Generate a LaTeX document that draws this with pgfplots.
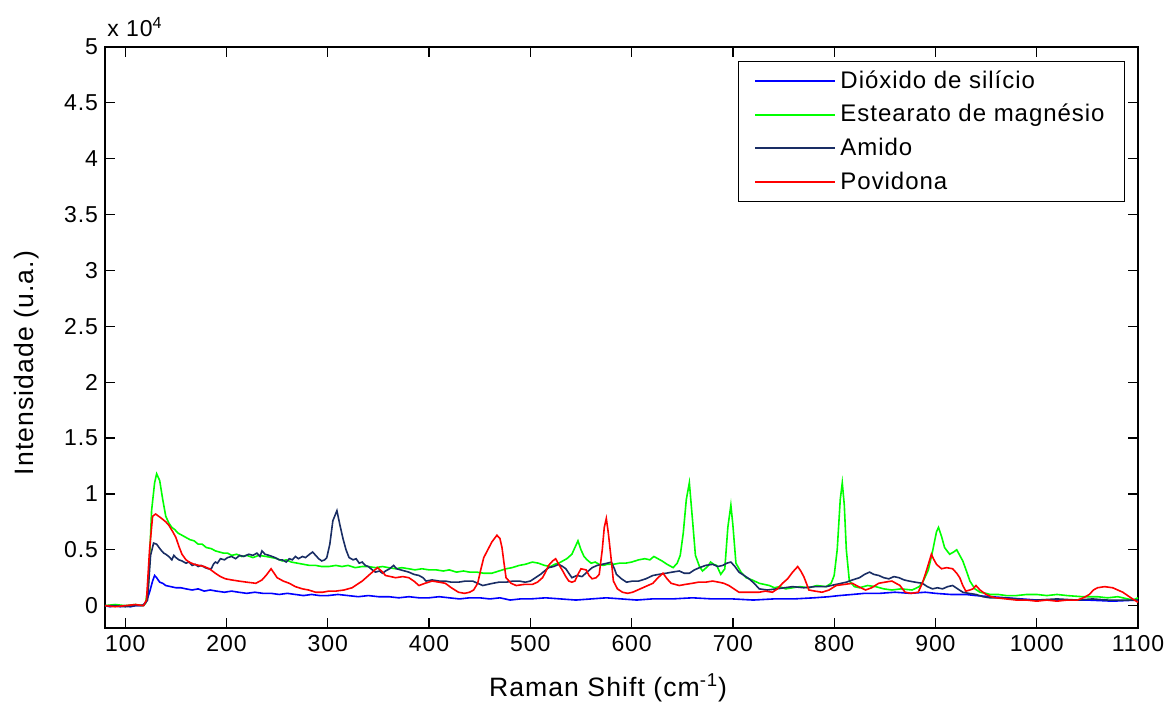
\documentclass[border=0pt]{standalone}
\usepackage{fontspec}
\setmainfont{Liberation Sans}[LetterSpace=4]
\usepackage{pgfplots}
\pgfplotsset{compat=1.18}
\definecolor{amido}{RGB}{25,45,100}
\definecolor{dioxblue}{RGB}{0,0,255}
\definecolor{estgreen}{RGB}{0,255,0}
\definecolor{povred}{RGB}{255,0,0}
\begin{document}
\begin{tikzpicture}
\begin{axis}[
  scale only axis,
  width=516.5pt, height=290.5pt,
  xmin=80, xmax=1100, ymin=-0.2, ymax=5,
  xtick={100,200,...,1100},
  ytick={0,0.5,...,5},
  yticklabels={0,0.5,1,1.5,2,2.5,3,3.5,4,4.5,5},
  /pgf/number format/assume math mode=true,
  /pgf/number format/1000 sep={},
  tick align=inside,
  major tick length=5pt,
  axis line style={line width=0.6pt},
  every tick/.style={black, line width=0.6pt},
  tick label style={font=\fontsize{11.5}{13}\selectfont},
  xlabel={Raman Shift (cm\textsuperscript{-1})},
  ylabel={Intensidade (u.a.)},
  label style={font=\fontsize{13.3}{15}\selectfont},
  xlabel style={at={(axis description cs:0.487,-0.103)}, anchor=center},
  ylabel style={at={(axis description cs:-0.0755,0.456)}, anchor=center},
  clip=false,
  legend cell align=left,
  legend image code/.code={\draw[#1, line width=1pt] (0pt,0pt) -- (40pt,0pt);},
  legend style={at={(0.9874,0.976)}, anchor=north east, draw=black, fill=white,
    font=\fontsize{12}{14}\selectfont, inner xsep=8pt, inner ysep=2.5pt, row sep=2.6pt},
  every axis plot/.append style={line width=0.8pt},
]
% Dioxido de silicio
\addplot[color=dioxblue] coordinates {
(80,0) (85,-0.01) (90,0.0) (95,-0.01) (100,0.0) (105,-0.01) (110,0.0) (115,0.0) (118,0.01) (121,0.04) (124,0.12) (127,0.22) (129,0.27) (131,0.25) (134,0.21) (137,0.2) (140,0.18) (145,0.17) (150,0.16) (155,0.16) (160,0.15) (166,0.14) (172,0.15) (178,0.13) (184,0.14) (190,0.13) (198,0.12) (205,0.13) (212,0.12) (220,0.11) (228,0.12) (236,0.11) (244,0.11) (252,0.10) (260,0.11) (268,0.10) (276,0.09) (284,0.10) (292,0.09) (300,0.09) (310,0.10) (320,0.09) (330,0.08) (340,0.09) (350,0.08) (360,0.08) (370,0.07) (380,0.08) (390,0.07) (400,0.07) (410,0.08) (420,0.07) (430,0.06) (440,0.07) (450,0.07) (460,0.06) (470,0.07) (480,0.05) (490,0.06) (500,0.06) (515,0.07) (530,0.06) (545,0.05) (560,0.06) (575,0.07) (590,0.06) (605,0.05) (620,0.06) (640,0.06) (660,0.07) (680,0.06) (700,0.06) (720,0.05) (740,0.06) (760,0.06) (780,0.07) (795,0.08) (805,0.09) (818,0.10) (830,0.11) (845,0.11) (860,0.12) (875,0.11) (890,0.12) (900,0.11) (915,0.10) (930,0.10) (940,0.09) (955,0.08) (970,0.07) (985,0.06) (1000,0.05) (1025,0.05) (1050,0.05) (1075,0.04) (1100,0.05)};
\addlegendentry{Dióxido de silício}
% Estearato de magnesio
\addplot[color=estgreen] coordinates {
(80,0.0) (90,0.01) (100,0.0) (110,0.01) (117,0.0) (120,0.02) (123,0.2) (126,0.85) (129,1.1) (131,1.18) (134,1.12) (137,0.95) (140,0.8) (143,0.74) (146,0.70) (149,0.68) (152,0.65) (156,0.63) (160,0.61) (164,0.59) (168,0.58) (172,0.55) (176,0.55) (180,0.52) (185,0.51) (189,0.49) (193,0.48) (197,0.47) (201,0.47) (205,0.45) (210,0.46) (215,0.44) (220,0.45) (226,0.43) (232,0.45) (239,0.44) (245,0.43) (250,0.42) (255,0.40) (259,0.41) (264,0.39) (270,0.38) (276,0.37) (282,0.36) (288,0.36) (294,0.35) (301,0.35) (308,0.36) (314,0.35) (320,0.36) (327,0.34) (334,0.35) (340,0.35) (347,0.34) (354,0.35) (360,0.34) (367,0.33) (373,0.34) (380,0.33) (386,0.32) (393,0.33) (400,0.32) (407,0.32) (414,0.31) (420,0.32) (427,0.30) (434,0.31) (440,0.30) (447,0.30) (454,0.29) (462,0.29) (469,0.31) (476,0.33) (482,0.34) (489,0.36) (495,0.37) (502,0.39) (508,0.38) (514,0.36) (520,0.35) (524,0.37) (528,0.38) (532,0.40) (536,0.42) (541,0.46) (544,0.52) (547,0.58) (550,0.50) (553,0.44) (556,0.41) (560,0.38) (564,0.39) (568,0.37) (572,0.36) (576,0.37) (582,0.37) (588,0.38) (594,0.38) (600,0.39) (607,0.41) (613,0.42) (618,0.41) (622,0.44) (626,0.42) (630,0.40) (635,0.37) (641,0.34) (645,0.38) (648,0.45) (651,0.65) (654,0.95) (657,1.10) (660,0.78) (663,0.45) (667,0.35) (670,0.31) (675,0.35) (678,0.39) (681,0.37) (684,0.36) (688,0.28) (692,0.33) (695,0.70) (698,0.90) (700,0.72) (703,0.38) (708,0.30) (713,0.25) (719,0.23) (726,0.20) (731,0.19) (736,0.18) (741,0.16) (746,0.17) (752,0.15) (759,0.16) (766,0.17) (775,0.16) (783,0.18) (792,0.17) (797,0.20) (800,0.27) (803,0.5) (806,0.95) (808,1.10) (810,0.9) (812,0.5) (815,0.22) (820,0.17) (825,0.16) (833,0.18) (841,0.17) (849,0.15) (857,0.14) (866,0.15) (877,0.14) (884,0.17) (888,0.22) (893,0.32) (897,0.48) (901,0.66) (903,0.70) (906,0.62) (909,0.52) (914,0.46) (918,0.48) (921,0.50) (924,0.45) (927,0.40) (931,0.30) (934,0.22) (939,0.15) (944,0.12) (950,0.11) (954,0.10) (962,0.10) (970,0.09) (980,0.09) (990,0.10) (1000,0.10) (1010,0.09) (1020,0.10) (1030,0.09) (1045,0.08) (1060,0.08) (1070,0.07) (1080,0.08) (1090,0.06) (1095,0.05) (1100,0.07)};
\addlegendentry{Estearato de magnésio}
% Amido
\addplot[color=amido] coordinates {
(80,0) (90,0.0) (100,-0.01) (110,0.0) (118,0.0) (122,0.05) (125,0.45) (128,0.56) (131,0.55) (135,0.50) (138,0.47) (140,0.46) (143,0.44) (146,0.41) (148,0.45) (150,0.43) (153,0.41) (156,0.40) (160,0.38) (163,0.39) (166,0.36) (169,0.37) (172,0.35) (175,0.36) (179,0.34) (182,0.33) (185,0.33) (187,0.37) (189,0.39) (191,0.38) (194,0.42) (198,0.41) (201,0.43) (205,0.44) (209,0.42) (213,0.45) (217,0.44) (222,0.46) (226,0.45) (230,0.47) (233,0.44) (235,0.49) (238,0.46) (242,0.45) (245,0.44) (248,0.43) (252,0.41) (255,0.41) (259,0.39) (262,0.42) (265,0.41) (268,0.44) (271,0.42) (275,0.44) (278,0.43) (282,0.46) (285,0.48) (288,0.45) (291,0.42) (294,0.40) (297,0.41) (299,0.43) (302,0.55) (305,0.76) (309,0.85) (312,0.72) (315,0.60) (318,0.50) (321,0.43) (325,0.41) (328,0.42) (331,0.38) (334,0.39) (337,0.36) (340,0.35) (344,0.32) (347,0.30) (351,0.31) (354,0.29) (357,0.31) (361,0.33) (365,0.36) (368,0.33) (372,0.32) (376,0.31) (380,0.30) (385,0.28) (390,0.27) (394,0.25) (397,0.22) (403,0.23) (410,0.22) (416,0.22) (422,0.21) (429,0.21) (436,0.22) (443,0.22) (448,0.20) (453,0.18) (458,0.19) (463,0.20) (469,0.21) (476,0.21) (483,0.22) (489,0.22) (495,0.21) (500,0.22) (505,0.25) (510,0.28) (514,0.31) (518,0.34) (523,0.35) (528,0.37) (532,0.35) (535,0.33) (538,0.29) (541,0.25) (546,0.27) (551,0.26) (556,0.30) (561,0.34) (566,0.36) (571,0.37) (576,0.38) (580,0.39) (583,0.33) (585,0.28) (590,0.24) (595,0.21) (601,0.22) (607,0.22) (614,0.24) (621,0.27) (627,0.28) (634,0.29) (640,0.30) (647,0.31) (652,0.29) (657,0.29) (662,0.32) (667,0.34) (673,0.36) (680,0.37) (685,0.35) (690,0.36) (694,0.38) (698,0.39) (702,0.35) (706,0.30) (711,0.27) (716,0.24) (721,0.20) (726,0.15) (734,0.14) (743,0.15) (751,0.16) (759,0.17) (770,0.16) (781,0.17) (792,0.17) (802,0.19) (812,0.21) (818,0.23) (825,0.25) (830,0.28) (835,0.30) (839,0.28) (844,0.27) (849,0.25) (854,0.24) (859,0.26) (864,0.25) (869,0.23) (874,0.22) (880,0.21) (887,0.20) (892,0.17) (897,0.15) (902,0.16) (907,0.15) (912,0.17) (917,0.18) (922,0.15) (927,0.12) (933,0.11) (940,0.10) (947,0.08) (954,0.07) (965,0.07) (980,0.06) (990,0.05) (1000,0.05) (1020,0.06) (1040,0.05) (1055,0.06) (1070,0.05) (1085,0.05) (1100,0.05)};
\addlegendentry{Amido}
% Povidona
\addplot[color=povred] coordinates {
(80,0) (90,-0.01) (100,0.0) (110,0.01) (118,0.0) (121,0.05) (124,0.5) (127,0.80) (130,0.82) (133,0.80) (136,0.78) (140,0.75) (143,0.72) (147,0.66) (150,0.61) (153,0.53) (156,0.46) (160,0.41) (163,0.39) (168,0.37) (173,0.36) (178,0.35) (183,0.33) (186,0.31) (189,0.29) (194,0.26) (199,0.24) (205,0.23) (212,0.22) (220,0.21) (229,0.20) (235,0.23) (239,0.27) (244,0.33) (247,0.29) (250,0.25) (256,0.22) (262,0.20) (268,0.17) (275,0.15) (281,0.14) (288,0.12) (295,0.12) (301,0.13) (308,0.13) (316,0.14) (324,0.16) (329,0.19) (334,0.22) (339,0.26) (344,0.30) (349,0.34) (353,0.31) (357,0.27) (362,0.26) (367,0.25) (374,0.26) (380,0.25) (385,0.22) (390,0.18) (396,0.20) (403,0.22) (410,0.21) (416,0.20) (422,0.16) (429,0.12) (435,0.11) (440,0.12) (444,0.14) (448,0.20) (451,0.32) (454,0.43) (458,0.50) (462,0.57) (467,0.63) (470,0.60) (472,0.52) (474,0.38) (476,0.25) (481,0.20) (486,0.18) (494,0.19) (502,0.19) (507,0.21) (512,0.25) (515,0.30) (518,0.36) (522,0.40) (525,0.42) (528,0.37) (532,0.31) (535,0.26) (538,0.22) (541,0.21) (544,0.22) (547,0.28) (550,0.33) (555,0.32) (558,0.27) (561,0.24) (565,0.25) (568,0.28) (571,0.50) (573,0.70) (575,0.78) (577,0.65) (580,0.40) (582,0.22) (586,0.15) (591,0.12) (596,0.11) (601,0.12) (606,0.14) (611,0.16) (616,0.18) (621,0.20) (626,0.25) (631,0.29) (635,0.24) (639,0.20) (643,0.19) (647,0.18) (653,0.19) (660,0.20) (666,0.21) (673,0.21) (680,0.22) (686,0.21) (691,0.20) (696,0.18) (701,0.15) (706,0.12) (716,0.12) (726,0.12) (732,0.13) (739,0.12) (744,0.15) (749,0.20) (754,0.24) (759,0.30) (764,0.35) (767,0.31) (770,0.26) (773,0.19) (775,0.14) (781,0.13) (788,0.12) (795,0.14) (802,0.18) (810,0.19) (818,0.20) (824,0.17) (831,0.14) (837,0.16) (844,0.20) (850,0.21) (857,0.22) (861,0.20) (865,0.18) (870,0.12) (876,0.11) (883,0.12) (887,0.20) (891,0.31) (894,0.40) (896,0.46) (898,0.42) (901,0.37) (906,0.33) (911,0.34) (917,0.33) (921,0.29) (924,0.25) (927,0.18) (930,0.13) (934,0.14) (937,0.15) (940,0.18) (944,0.14) (950,0.10) (955,0.08) (960,0.07) (970,0.06) (980,0.05) (990,0.05) (1000,0.04) (1010,0.05) (1020,0.04) (1030,0.05) (1040,0.05) (1046,0.07) (1052,0.10) (1056,0.14) (1060,0.16) (1067,0.17) (1075,0.16) (1080,0.14) (1085,0.12) (1093,0.07) (1100,0.03)};
\addlegendentry{Povidona}
\node[anchor=base west, inner sep=0pt, font=\fontsize{11.5}{13}\selectfont] at ([xshift=1pt,yshift=5pt]rel axis cs:0,1) {x 10\textsuperscript{4}};
\end{axis}
\pgfresetboundingbox
\path[use as bounding box] (-52.5pt,-38pt) rectangle (535pt,314pt);
\end{tikzpicture}
\end{document}
